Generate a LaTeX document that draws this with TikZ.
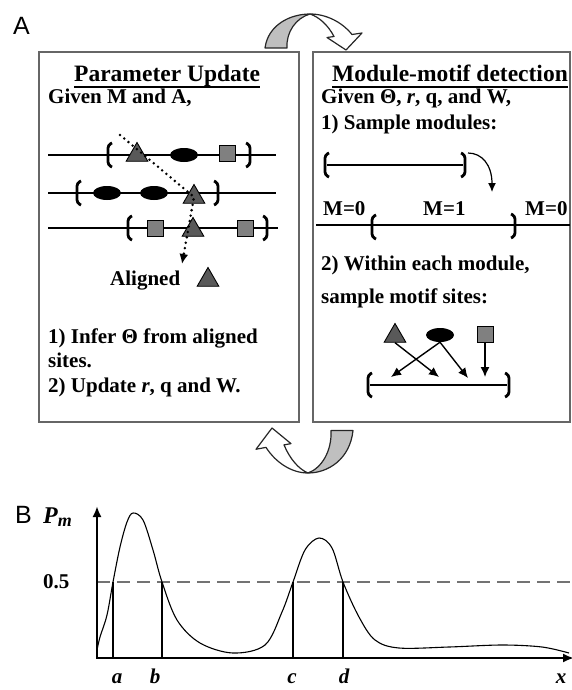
\documentclass[tikz,border=0pt]{standalone}
\usepackage{fontspec}
\setmainfont{Liberation Serif}
\newfontfamily\panelfont{Liberation Sans}
\usetikzlibrary{arrows.meta,shapes.geometric}

\begin{document}
\begin{tikzpicture}[x=1pt,y=-1pt,
  txt/.style={anchor=base west,inner sep=0pt,font=\fontsize{21}{25}\selectfont\bfseries},
  ttl/.style={anchor=base west,inner sep=0pt,font=\fontsize{23.5}{27}\selectfont\bfseries},
  uline/.style={line width=1.5pt},
  panel/.style={draw=black!60,line width=1.3pt,fill=white},
  motiftri/.style={regular polygon,regular polygon sides=3,draw,line width=0.9pt,fill=black!65,minimum size=25pt,inner sep=0pt},
  motifell/.style={ellipse,fill=black,minimum width=28pt,minimum height=14pt,inner sep=0pt},
  motifsq/.style={rectangle,draw,line width=0.9pt,fill=black!50,minimum size=16pt,inner sep=0pt},
  seq/.style={line width=2.4pt},
  lbr/.pic={\draw[line width=2.8pt,rounded corners=3pt] (4,-12) -- (0,-10) -- (0,10) -- (4,12);},
  rbr/.pic={\draw[line width=2.8pt,rounded corners=3pt] (-4,-12) -- (0,-10) -- (0,10) -- (-4,12);},
  arr/.style={line width=1.4pt,-{Latex[length=10pt,width=9pt]}},
  dots/.style={line width=2.8pt,line cap=round,dash pattern=on 0pt off 5.5pt,-{Latex[length=10pt,width=9pt]}},
  swirl/.style={draw=black!85,line width=1.2pt,line join=round},
  axis/.style={line width=2.2pt,{Latex[length=11pt,width=9pt]}-{Latex[length=11pt,width=9pt]}},
  cut/.style={line width=1.6pt},
  lab/.style={anchor=base,inner sep=0pt,font=\fontsize{21}{24}\selectfont\bfseries\itshape}]
\useasboundingbox (0,0) rectangle (572,690);

% panel A
\node[anchor=base west,inner sep=0pt,font=\panelfont\fontsize{25}{28}\selectfont] (A) at (13,35) {A};
\node[panel,minimum width=260pt,minimum height=370pt] (lbox) at (169,237) {};
\node[panel,minimum width=257pt,minimum height=370pt] (rbox) at (441.5,237) {};

% swirl arrows between the boxes
\begin{scope}[shift={(310,14)}]
\draw[swirl,fill=black!25] (-45,34) .. controls (-42,11) and (-20,0) .. (0,0) .. controls (-14,4) and (-24,18) .. (-23,34) -- cycle;
\draw[swirl,fill=white] (0,0) .. controls (16,0) and (32,8) .. (42,20.5) -- (52,19) -- (36,36) -- (17,23.5) -- (24,22.5) .. controls (18,11) and (9,3) .. (0,0) -- cycle;
\end{scope}
\begin{scope}[shift={(308,473)},xscale=-1,yscale=-1.25]
\draw[swirl,fill=black!25] (-45,34) .. controls (-42,11) and (-20,0) .. (0,0) .. controls (-14,4) and (-24,18) .. (-23,34) -- cycle;
\draw[swirl,fill=white] (0,0) .. controls (16,0) and (32,8) .. (42,20.5) -- (52,19) -- (36,36) -- (17,23.5) -- (24,22.5) .. controls (18,11) and (9,3) .. (0,0) -- cycle;
\end{scope}

% parameter update
\node[ttl] (ptitle) at (74,82) {Parameter Update};
\draw[uline] ([yshift=-5pt]ptitle.base west) -- ([yshift=-5pt]ptitle.base east);
\node[txt] (given) at (48,104) {Given M and A,};
\draw[seq] (48,155) -- (276,155);
\draw[seq] (48,193) -- (276,193);
\draw[seq] (48,228) -- (278,228);
\pic at (108,155) {lbr}; \pic at (250,155) {rbr};
\pic at (77,193) {lbr};  \pic at (218,193) {rbr};
\pic at (128,228) {lbr}; \pic at (267,228) {rbr};
\node[motiftri] (t1) at (137,155) {};
\node[motifell] (e1) at (184,155) {};
\node[motifsq] (s1) at (227,153) {};
\node[motifell] (e2) at (107,193) {};
\node[motifell] (e3) at (154,193) {};
\node[motiftri] (t2) at (194,197) {};
\node[motifsq] (s2) at (155,228) {};
\node[motiftri] (t3) at (193,230) {};
\node[motifsq] (s3) at (245,228) {};
\coordinate (dstart) at (120,135);
\coordinate (dend) at (182,264);
\draw[dots] (dstart) -- (t2.center) -- (dend);
\node[txt] (aligned) at (110,285) {Aligned};
\node[motiftri] (talign) at (208,280) {};
\node[txt] (infer) at (48,343) {1) Infer Θ from aligned};
\node[txt] (sites) at (48,367) {sites.};
\node[txt] (update) at (48,392) {2) Update \textit{r}, q and W.};

% module-motif detection
\node[ttl] (mtitle) at (332,82) {Module-motif detection};
\draw[uline] ([yshift=-5pt]mtitle.base west) -- ([yshift=-5pt]mtitle.base east);
\node[txt] (mgiven) at (321,104) {Given Θ, \textit{r}, q, and W,};
\node[txt] (sample) at (321,129) {1) Sample modules:};
\draw[seq] (327,165) -- (463,165);
\pic at (325,165) {lbr}; \pic at (465,165) {rbr};
\coordinate (mstart) at (468,153);
\coordinate (mtip) at (492,192);
\draw[arr,line width=1.2pt,-{Latex[length=9pt,width=8pt]}] (mstart) .. controls (482,153) and (492,165) .. (mtip);
\node[txt] (m0l) at (323,215) {M=0};
\node[txt] (m1) at (423,215) {M=1};
\node[txt] (m0r) at (525,215) {M=0};
\draw[seq] (316,225) -- (570,225);
\pic at (372,227) {lbr}; \pic at (515,226) {rbr};
\node[txt] (within) at (321,270) {2) Within each module,};
\node[txt] (msites) at (321,303) {sample motif sites:};
\node[motiftri] (t4) at (395,336) {};
\node[motifell] (e4) at (440,335) {};
\node[motifsq] (s4) at (485,334) {};
\coordinate (tip1) at (439,377);
\coordinate (tip2) at (391,377);
\coordinate (tip3) at (468,378);
\coordinate (tip4) at (485,377);
\draw[arr] (t4.south) -- (tip1);
\draw[arr] (e4.south) -- (tip2);
\draw[arr] (e4.south) -- (tip3);
\draw[arr] (s4.south) -- (tip4);
\draw[seq] (370,385) -- (507,385);
\pic at (368,385) {lbr}; \pic at (509,385) {rbr};

% panel B
\node[anchor=base west,inner sep=0pt,font=\panelfont\fontsize{25}{28}\selectfont] (B) at (15,523) {B};
\node[anchor=base west,inner sep=0pt,font=\fontsize{24}{26}\selectfont\bfseries\itshape] (pm) at (43,523) {P\raisebox{-3pt}{\fontsize{18}{18}\selectfont m}};
\node[txt] (half) at (43,588) {0.5};
\coordinate (O) at (97,658);
\coordinate (ytop) at (97,506);
\coordinate (xend) at (574,658);
\coordinate (hl) at (97,582);
\coordinate (hr) at (572,582);
\draw[black!55,line width=1.1pt,dash pattern=on 13pt off 7pt] (hl) -- (hr);
\draw[line width=1.1pt] plot[smooth,tension=0.55] coordinates {(97,650) (100,637) (107,615) (113,582) (120,547) (127,522) (133,513) (143,520) (153,550) (162,582) (177,620) (200,643) (233,653) (265,645) (282,612) (293,582) (305,550) (319,538) (332,548) (343,582) (359,617) (375,640) (399,648) (449,647) (502,645) (542,647) (569,653)};
\foreach \p/\q/\n in {113/117/a,162/155/b,293/292/c,343/344/d}{
  \coordinate (cut-\n) at (\p,582);
  \draw[cut] (cut-\n) -- (cut-\n |- O);
  \node[lab] (lab-\n) at (\q,683) {\n};
}
\draw[axis] (ytop) -- (O) -- (xend);
\node[lab] (xl) at (561,683) {x};
\end{tikzpicture}
\end{document}
